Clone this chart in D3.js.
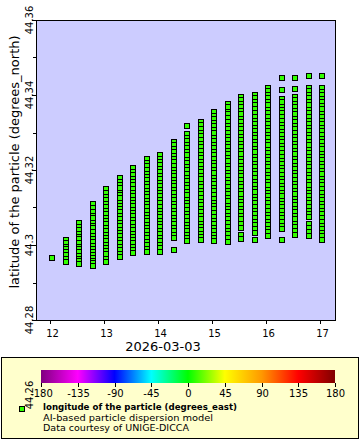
<!DOCTYPE html>
<html><head><meta charset="utf-8">
<script src="https://cdn.jsdelivr.net/npm/d3@7"></script>
<style>body{margin:0;background:#fff}svg{display:block}text{font-family:"DejaVu Sans",sans-serif;fill:#000}</style>
</head><body>
<script>
// ---- data ----
const dateStr = "2026-03-03";
const times = ["12:00","12:15","12:30","12:45","13:00","13:15","13:30","13:45","14:00","14:15","14:30","14:45","15:00","15:15","15:30","15:45","16:00","16:15","16:30","16:45","17:00"];
const lonByTime = [8.9,8.9,8.9,8.9,8.9,8.9,8.9,8.9,8.9,8.9,8.9,8.9,8.9,8.9,8.9,8.9,8.9,8.9,8.9,8.9,8.9];
const latByTime = [
 [44.2965],
 [44.3013,44.3004,44.2996,44.2989,44.2980,44.2973,44.2964,44.2955],
 [44.3059,44.3049,44.3041,44.3030,44.3022,44.3016,44.3005,44.2996,44.2990,44.2981,44.2970,44.2962,44.2957,44.2949],
 [44.3109,44.3098,44.3089,44.3078,44.3071,44.3060,44.3052,44.3044,44.3035,44.3024,44.3016,44.3009,44.2998,44.2990,44.2982,44.2974,44.2965,44.2958,44.2951,44.2944],
 [44.3149,44.3138,44.3129,44.3120,44.3109,44.3101,44.3092,44.3083,44.3072,44.3064,44.3057,44.3046,44.3036,44.3028,44.3020,44.3011,44.3000,44.2993,44.2984,44.2975,44.2964,44.2955],
 [44.3179,44.3168,44.3160,44.3151,44.3140,44.3132,44.3125,44.3113,44.3104,44.3096,44.3087,44.3076,44.3068,44.3060,44.3051,44.3040,44.3033,44.3024,44.3013,44.3005,44.2996,44.2987,44.2977,44.2968],
 [44.3205,44.3195,44.3186,44.3177,44.3167,44.3159,44.3149,44.3140,44.3131,44.3121,44.3113,44.3104,44.3094,44.3086,44.3077,44.3066,44.3058,44.3049,44.3040,44.3030,44.3021,44.3013,44.3004,44.2994,44.2987,44.2979],
 [44.3229,44.3218,44.3210,44.3201,44.3190,44.3182,44.3173,44.3163,44.3155,44.3145,44.3136,44.3128,44.3118,44.3109,44.3100,44.3091,44.3081,44.3073,44.3064,44.3054,44.3046,44.3036,44.3027,44.3018,44.3008,44.3000,44.2990,44.2981],
 [44.3240,44.3230,44.3221,44.3213,44.3202,44.3194,44.3184,44.3175,44.3166,44.3157,44.3147,44.3138,44.3130,44.3119,44.3111,44.3102,44.3092,44.3084,44.3075,44.3065,44.3056,44.3047,44.3038,44.3029,44.3019,44.3010,44.3000,44.2991,44.2981],
 [44.3275,44.3266,44.3256,44.3248,44.3238,44.3229,44.3220,44.3211,44.3201,44.3193,44.3183,44.3174,44.3165,44.3156,44.3146,44.3138,44.3128,44.3119,44.3110,44.3101,44.3091,44.3083,44.3073,44.3064,44.3055,44.3046,44.3036,44.3028,44.3019,44.2987],
 [44.3317,44.3296,44.3286,44.3277,44.3266,44.3258,44.3248,44.3239,44.3227,44.3218,44.3209,44.3199,44.3190,44.3180,44.3171,44.3160,44.3152,44.3142,44.3133,44.3121,44.3112,44.3103,44.3093,44.3084,44.3074,44.3065,44.3054,44.3046,44.3036,44.3027,44.3020,44.3011],
 [44.3328,44.3319,44.3308,44.3300,44.3290,44.3281,44.3269,44.3260,44.3251,44.3241,44.3232,44.3222,44.3213,44.3202,44.3194,44.3184,44.3175,44.3163,44.3154,44.3145,44.3135,44.3126,44.3116,44.3107,44.3096,44.3088,44.3078,44.3069,44.3057,44.3048,44.3039,44.3029,44.3021,44.3013],
 [44.3355,44.3345,44.3336,44.3325,44.3317,44.3307,44.3298,44.3286,44.3277,44.3268,44.3258,44.3249,44.3239,44.3230,44.3219,44.3211,44.3201,44.3192,44.3180,44.3171,44.3162,44.3152,44.3143,44.3133,44.3124,44.3113,44.3105,44.3095,44.3086,44.3074,44.3065,44.3056,44.3046,44.3037,44.3027,44.3019,44.3011],
 [44.3376,44.3367,44.3356,44.3348,44.3338,44.3329,44.3317,44.3308,44.3299,44.3289,44.3280,44.3270,44.3261,44.3250,44.3242,44.3232,44.3223,44.3211,44.3202,44.3193,44.3183,44.3174,44.3164,44.3155,44.3144,44.3136,44.3126,44.3117,44.3105,44.3096,44.3087,44.3077,44.3068,44.3058,44.3049,44.3038,44.3029,44.3018,44.3008],
 [44.3395,44.3386,44.3375,44.3367,44.3357,44.3348,44.3336,44.3327,44.3318,44.3308,44.3299,44.3289,44.3280,44.3269,44.3261,44.3251,44.3242,44.3230,44.3221,44.3212,44.3202,44.3193,44.3183,44.3174,44.3163,44.3155,44.3145,44.3136,44.3124,44.3115,44.3106,44.3096,44.3087,44.3077,44.3068,44.3057,44.3045,44.3027,44.3016],
 [44.3400,44.3391,44.3380,44.3372,44.3362,44.3353,44.3341,44.3332,44.3323,44.3313,44.3304,44.3294,44.3285,44.3274,44.3266,44.3256,44.3247,44.3235,44.3226,44.3217,44.3207,44.3198,44.3188,44.3179,44.3168,44.3160,44.3150,44.3141,44.3129,44.3120,44.3111,44.3101,44.3092,44.3082,44.3073,44.3062,44.3053,44.3043,44.3032,44.3013],
 [44.3419,44.3410,44.3399,44.3391,44.3381,44.3372,44.3360,44.3351,44.3342,44.3332,44.3323,44.3313,44.3304,44.3293,44.3285,44.3275,44.3266,44.3254,44.3245,44.3236,44.3226,44.3217,44.3207,44.3198,44.3187,44.3179,44.3169,44.3160,44.3148,44.3139,44.3130,44.3120,44.3111,44.3101,44.3092,44.3081,44.3072,44.3062,44.3053,44.3043,44.3034,44.3024],
 [44.3445,44.3413,44.3389,44.3380,44.3369,44.3361,44.3351,44.3342,44.3330,44.3321,44.3312,44.3302,44.3293,44.3283,44.3274,44.3263,44.3255,44.3245,44.3236,44.3224,44.3215,44.3206,44.3196,44.3187,44.3177,44.3168,44.3157,44.3149,44.3139,44.3130,44.3118,44.3109,44.3100,44.3090,44.3081,44.3071,44.3062,44.3051,44.3043,44.3013],
 [44.3445,44.3416,44.3395,44.3386,44.3375,44.3367,44.3357,44.3348,44.3336,44.3327,44.3318,44.3308,44.3299,44.3289,44.3280,44.3269,44.3261,44.3251,44.3242,44.3230,44.3221,44.3212,44.3202,44.3193,44.3183,44.3174,44.3163,44.3155,44.3145,44.3136,44.3124,44.3115,44.3106,44.3096,44.3087,44.3077,44.3068,44.3057,44.3047,44.3037,44.3027],
 [44.3451,44.3419,44.3410,44.3399,44.3391,44.3381,44.3372,44.3360,44.3351,44.3342,44.3332,44.3323,44.3313,44.3304,44.3293,44.3285,44.3275,44.3266,44.3254,44.3245,44.3236,44.3226,44.3217,44.3207,44.3198,44.3187,44.3179,44.3169,44.3160,44.3148,44.3139,44.3130,44.3120,44.3111,44.3101,44.3092,44.3084,44.3075,44.3056,44.3046,44.3035,44.3024],
 [44.3451,44.3419,44.3409,44.3400,44.3389,44.3381,44.3371,44.3362,44.3350,44.3341,44.3332,44.3322,44.3313,44.3303,44.3294,44.3283,44.3275,44.3265,44.3256,44.3244,44.3235,44.3226,44.3216,44.3207,44.3197,44.3188,44.3177,44.3169,44.3159,44.3150,44.3138,44.3129,44.3120,44.3110,44.3101,44.3091,44.3082,44.3071,44.3062,44.3052,44.3043,44.3033,44.3023,44.3013]
];
const yTickValues = [44.26,44.28,44.30,44.32,44.34,44.36];
const yTickLabels = ["44.26","44.28","44.3","44.32","44.34","44.36"];
const yMinorValues = [44.29,44.31,44.33,44.35];
const xTickLabels = ["12","13","14","15","16","17"];
const paletteValues = [-180,-135,-90,-45,0,45,90,135,180];
const paletteColors = ["#800080","#ff00ff","#0000ff","#00ffff","#00ff00","#ffff00","#ff9900","#ff0000","#800000"];
const legendTicks = [-180,-135,-90,-45,0,45,90,135,180];
const yTitle = "latitude of the particle (degrees_north)";
const xTitle = "2026-03-03";
const legendTitle = "longitude of the particle (degrees_east)";
const legendLines = ["AI-based particle dispersion model","Data courtesy of UNIGE-DICCA"];

// ---- chart ----
const W = 360, H = 440;
const svg = d3.select("body").append("svg").attr("width", W).attr("height", H);
svg.append("rect").attr("width", W).attr("height", H).attr("fill", "#fff");

const parse = d3.utcParse("%Y-%m-%dT%H:%M:%S");
const x = d3.scaleUtc()
  .domain([parse(dateStr + "T11:43:55"), parse(dateStr + "T17:15:32")])
  .range([36, 335]);
const y = d3.scaleLinear().domain([44.28, 44.36]).range([320, 20]);
const color = d3.scaleLinear().domain(paletteValues).range(paletteColors);

// plot background
svg.append("rect").attr("x", 36.5).attr("y", 20.5).attr("width", 299).attr("height", 300)
  .attr("fill", "#ccccff").attr("stroke", "none");

// markers
const pts = [];
times.forEach((t, i) => {
  const d = parse(dateStr + "T" + t + ":00");
  latByTime[i].forEach(lat => pts.push({d, lat, lon: lonByTime[i]}));
});
svg.append("g").selectAll("rect").data(pts).join("rect")
  .attr("x", p => Math.round(x(p.d) - 1.5) + 0.5)
  .attr("y", p => Math.round(y(p.lat)) - 3 + 0.5)
  .attr("width", 5).attr("height", 5)
  .attr("fill", p => color(p.lon)).attr("stroke", "#000").attr("stroke-width", 1);

// frame
svg.append("rect").attr("x", 36.5).attr("y", 20.5).attr("width", 299).attr("height", 300)
  .attr("fill", "none").attr("stroke", "#000");

// y ticks
const yt = svg.append("g");
yTickValues.filter(v => v >= 44.28).forEach(v => {
  const py = Math.round(y(v)) + 0.5;
  yt.append("line").attr("x1", 32).attr("x2", 36).attr("y1", py).attr("y2", py).attr("stroke", "#000");
});
yMinorValues.forEach(v => {
  const py = Math.round(y(v)) + 0.5;
  yt.append("line").attr("x1", 33).attr("x2", 36).attr("y1", py).attr("y2", py).attr("stroke", "#000");
});

// x ticks
const xTicks = x.ticks(d3.utcHour.every(1));
xTicks.forEach((d, i) => {
  const px = Math.floor(x(d)) + 0.5;
  svg.append("line").attr("x1", px).attr("x2", px).attr("y1", 320).attr("y2", 324).attr("stroke", "#000");
  svg.append("text").attr("x", px + 2).attr("y", 336.5).attr("text-anchor", "middle")
    .attr("font-size", 10).text(xTickLabels[i] !== undefined ? xTickLabels[i] : d3.utcFormat("%H")(d));
});

// axis titles
svg.append("text").attr("x", 163).attr("y", 350.5).attr("text-anchor", "middle")
  .attr("font-size", 13).text(xTitle);
svg.append("text").attr("transform", "translate(18.5,162) rotate(-90)").attr("text-anchor", "middle")
  .attr("font-size", 13).text(yTitle);

// legend box
svg.append("rect").attr("x", 1.5).attr("y", 357.5).attr("width", 357).attr("height", 81)
  .attr("fill", "#ffffcc").attr("stroke", "#000");

const defs = svg.append("defs");
const grad = defs.append("linearGradient").attr("id", "pal").attr("x1", "0%").attr("x2", "100%");
paletteValues.forEach((v, i) => {
  grad.append("stop").attr("offset", ((v + 180) / 360 * 100) + "%").attr("stop-color", paletteColors[i]);
});
const cb = d3.scaleLinear().domain([-180, 180]).range([41, 335]);
svg.append("rect").attr("x", cb(-180)).attr("y", 370).attr("width", cb(180) - cb(-180)).attr("height", 13)
  .attr("fill", "url(#pal)");
legendTicks.forEach(v => {
  const px = Math.round(cb(v)) + 0.5;
  svg.append("line").attr("x1", px).attr("x2", px).attr("y1", 383).attr("y2", 387).attr("stroke", "#000");
  svg.append("text").attr("x", px).attr("y", 397).attr("text-anchor", "middle").attr("font-size", 10).text(v);
});

// legend marker + text
svg.append("rect").attr("x", 19.5).attr("y", 406.5).attr("width", 5).attr("height", 5)
  .attr("fill", color(lonByTime[0])).attr("stroke", "#000");
svg.append("text").attr("x", 43).attr("y", 410).attr("font-size", 9).attr("font-weight", "bold")
  .attr("textLength", 194).attr("lengthAdjust", "spacingAndGlyphs").text(legendTitle);
const legendWidths = [170, 146];
legendLines.forEach((s, i) => {
  svg.append("text").attr("x", 43).attr("y", 420.5 + i * 10.5).attr("font-size", 9)
    .attr("textLength", legendWidths[i]).attr("lengthAdjust", "spacingAndGlyphs").text(s);
});

// y tick labels (drawn last; lowest one overflows onto the legend as in the source)
yTickValues.forEach((v, i) => {
  svg.append("text").attr("transform", `translate(32.5,${y(v)}) rotate(-90)`)
    .attr("text-anchor", "middle").attr("font-size", 10).text(yTickLabels[i]);
});
</script>
</body></html>
